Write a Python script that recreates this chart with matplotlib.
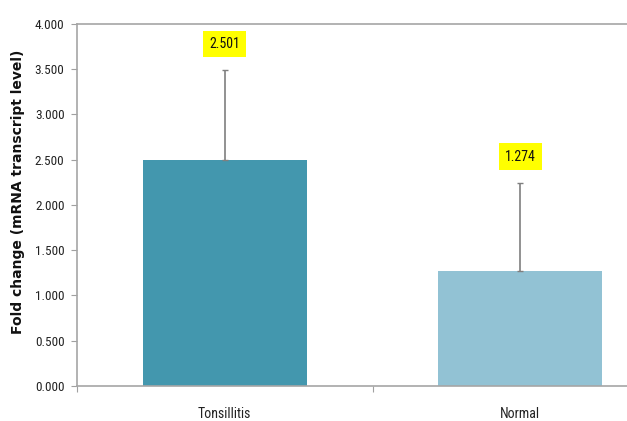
import matplotlib
matplotlib.use("Agg")
import matplotlib.pyplot as plt
from matplotlib import font_manager

# data
groups = ["Tonsillitis", "Normal"]
fold_change = [2.501, 1.274]
err_up = [0.99, 0.97]
bar_colors = ["#4397AE", "#92C2D4"]

names = {f.name for f in font_manager.fontManager.ttflist}
narrow = "DejaVu Sans"
for cand in ["Liberation Sans Narrow", "Roboto Condensed", "Open Sans Condensed", "Noto Sans Condensed"]:
    if cand in names:
        narrow = cand
        break
nfont = dict(family=narrow, stretch="condensed")

fig = plt.figure(figsize=(6.27, 4.21), dpi=100)
ax = fig.add_axes([0.1228, 0.0831, 0.9426, 0.86])

x = range(len(groups))
ax.bar(x, fold_change, width=0.555, color=bar_colors, zorder=2)
ax.errorbar(x, fold_change, yerr=[[0, 0], err_up], fmt="none",
            ecolor="#7f7f7f", elinewidth=1.2, capsize=2, capthick=1, zorder=3)

for i, v in enumerate(fold_change):
    ax.text(i, v + err_up[i] + 0.29, "%.3f" % v, ha="center", va="center",
            fontsize=10, color="#111111", **nfont,
            bbox=dict(boxstyle="square,pad=0.45", facecolor="#FFFF00", edgecolor="none"))

ax.set_xlim(-0.5, 1.5)
ax.set_ylim(0, 4)
ax.set_yticks([i * 0.5 for i in range(9)])
ax.set_yticklabels(["%.3f" % (i * 0.5) for i in range(9)], fontsize=9.5,
                   color="#222222", **nfont)
ax.set_xticks([-0.5, 0.5, 1.5])
ax.set_xticklabels([])
ax.set_xticks(list(x), minor=True)
ax.set_xticklabels(groups, minor=True, fontsize=10, color="#222222", **nfont)
ax.tick_params(axis="x", which="minor", length=0, pad=15)
ax.tick_params(axis="x", which="major", length=4, color="#a0a0a0", direction="out")
ax.tick_params(axis="y", length=4, color="#a0a0a0", direction="out", pad=5)

for s in ["left", "bottom", "top"]:
    ax.spines[s].set_color("#a6a6a6")
    ax.spines[s].set_linewidth(1.2)
ax.spines["right"].set_visible(False)

ax.set_ylabel("Fold change (mRNA transcript level)", family="DejaVu Sans",
              fontsize=10, fontweight="bold", color="#111111")
ax.yaxis.set_label_coords(-0.088, 0.536)

fig.savefig("out.png", dpi=100)
